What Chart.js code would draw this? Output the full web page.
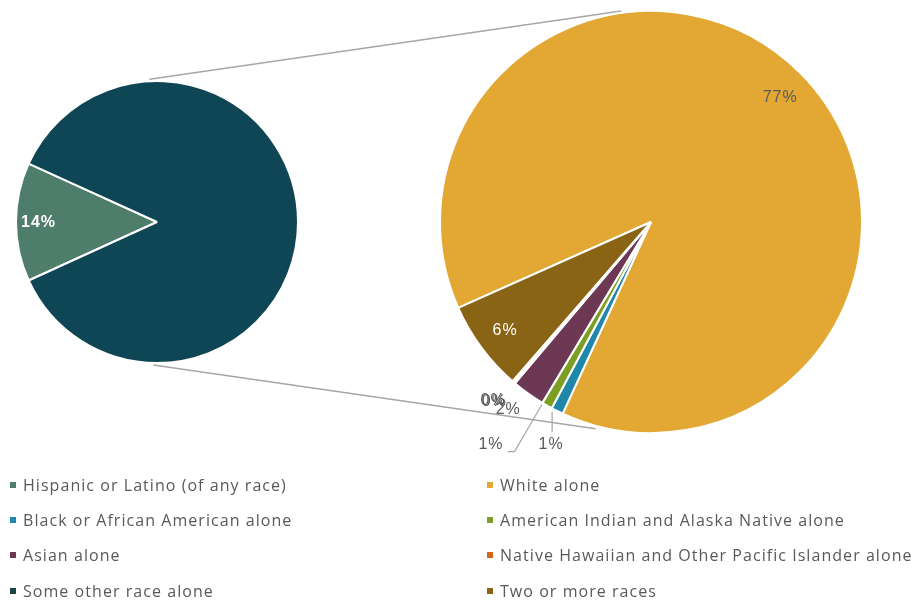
<!DOCTYPE html>
<html>
<head>
<meta charset="utf-8">
<script src="https://cdn.jsdelivr.net/npm/chart.js@4/dist/chart.umd.min.js"></script>
<style>
  body { margin: 0; background: #fff; }
  #contenidor { position: relative; width: 918px; height: 600px; }
  canvas { position: absolute; left: 0; top: 0; }
  #llegenda {
    position: absolute; left: 10px; top: 467px;
    display: grid; grid-template-columns: 477px 420px; grid-auto-rows: 35.3px;
    font-family: "Open Sans", sans-serif; font-size: 16px; letter-spacing: 1.05px; color: #595959;
  }
  .item { display: flex; align-items: center; white-space: nowrap; }
  .marca { width: 6px; height: 6px; margin-right: 7px; flex: none; }
</style>
</head>
<body>
<div id="contenidor">
  <canvas id="esquerra" width="918" height="600"></canvas>
  <canvas id="dreta" width="918" height="600"></canvas>
  <div id="llegenda"></div>
</div>
<script>
// Categories i percentatges (sobre el total de la població)
const categories = [
  'Hispanic or Latino (of any race)',
  'White alone',
  'Black or African American alone',
  'American Indian and Alaska Native alone',
  'Asian alone',
  'Native Hawaiian and Other Pacific Islander alone',
  'Some other race alone',
  'Two or more races'
];
const valors = [13.6, 76.5, 0.8, 0.7, 2.2, 0.1, 0.1, 6.0];
const colors = ['#4e7d6b', '#e2a833', '#1f87a7', '#7c9e22', '#6c3853', '#d2641c', '#1c4545', '#8a6415'];
const colorResta = '#0f4655';

// El pastís petit: hispans + la resta; el gran: desglossament de la resta
const valorsEsquerra = [valors[0], valors.slice(1).reduce((a, b) => a + b, 0)];
const valorsDreta = valors.slice(1);
const total = valors.reduce((a, b) => a + b, 0);

// Desplaçament (px) de les etiquetes petites respecte a la vora de la porció
const desplEtiquetes = {
  1: { dx: -6, dy: 34 },
  2: { dx: -56, dy: 39 },
  3: { dx: -20, dy: 16 },
  4: { dx: -20, dy: 19 },
  5: { dx: -20, dy: 19 }
};

function punt(arc, angle, r) {
  return { x: arc.x + Math.cos(angle) * r, y: arc.y + Math.sin(angle) * r };
}

// Plugin per dibuixar els percentatges sobre les porcions
function pluginEtiquetes(llistaIndexos) {
  return {
    id: 'etiquetes',
    afterDatasetsDraw(chart) {
      const ctx = chart.ctx;
      const meta = chart.getDatasetMeta(0);
      const dades = chart.data.datasets[0].data;
      ctx.save();
      ctx.textAlign = 'center';
      ctx.textBaseline = 'middle';
      ctx.letterSpacing = '1px';
      meta.data.forEach((arc, i) => {
        const idx = llistaIndexos[i];
        if (idx === null) return;
        const text = Math.round(dades[i] / total * 100) + '%';
        const mig = (arc.startAngle + arc.endAngle) / 2;
        if (dades[i] >= 3) {
          const p = punt(arc, mig, arc.outerRadius * (idx === 0 ? 0.84 : 0.86));
          ctx.font = (idx === 0 ? 'bold ' : '') + '16px "Liberation Sans", Arial, sans-serif';
          ctx.fillStyle = idx === 1 ? '#595959' : '#ffffff';
          ctx.fillText(text, p.x, p.y + (idx === 1 ? 3 : 1));
        } else {
          const vora = punt(arc, mig, arc.outerRadius);
          const d = desplEtiquetes[i] || { dx: -20, dy: 20 };
          const lx = vora.x + d.dx, ly = vora.y + d.dy;
          ctx.font = '16px "Liberation Sans", Arial, sans-serif';
          ctx.fillStyle = '#595959';
          ctx.fillText(text, lx, ly);
          // Línies guia per a les porcions de l'1%
          if (dades[i] >= 0.5 && dades[i] < 1.5) {
            ctx.strokeStyle = '#a6a6a6';
            ctx.lineWidth = 1.2;
            ctx.beginPath();
            if (d.dx < -20) {
              const w = ctx.measureText(text).width;
              ctx.moveTo(lx + w / 2 + 4, ly + 7);
              ctx.lineTo(lx + w / 2 + 11, ly + 7);
              ctx.lineTo(vora.x - 5, vora.y - 1);
            } else {
              ctx.moveTo(lx + 1, ly - 13);
              ctx.lineTo(lx + 1, vora.y + 1);
            }
            ctx.stroke();
          }
        }
      });
      ctx.restore();
    }
  };
}

// Línies que uneixen els dos pastissos
const pluginConnectors = {
  id: 'connectors',
  beforeDatasetsDraw(chart) {
    const a = graficaEsquerra.getDatasetMeta(0).data[0];
    const b = chart.getDatasetMeta(0).data[0];
    const g = Math.PI / 180;
    const ctx = chart.ctx;
    ctx.save();
    ctx.strokeStyle = '#a6a6a6';
    ctx.lineWidth = 1.5;
    ctx.beginPath();
    let p1 = punt(a, -93 * g, a.outerRadius + 2), p2 = punt(b, -98 * g, b.outerRadius + 2);
    ctx.moveTo(p1.x, p1.y); ctx.lineTo(p2.x, p2.y);
    p1 = punt(a, 91.5 * g, a.outerRadius + 2); p2 = punt(b, 105 * g, b.outerRadius + 3);
    ctx.moveTo(p1.x, p1.y); ctx.lineTo(p2.x, p2.y);
    ctx.stroke();
    ctx.restore();
  }
};

const opcionsComunes = {
  responsive: false,
  animation: false,
  plugins: { legend: { display: false }, tooltip: { enabled: false } }
};

const graficaEsquerra = new Chart(document.getElementById('esquerra'), {
  type: 'pie',
  data: {
    labels: ['Hispanic or Latino (of any race)', 'Not Hispanic or Latino'],
    datasets: [{
      data: valorsEsquerra,
      backgroundColor: [colors[0], colorResta],
      borderColor: '#ffffff',
      borderWidth: 2
    }]
  },
  options: Object.assign({}, opcionsComunes, {
    rotation: 245.5,
    layout: { padding: { left: 15, top: 80, right: 619, bottom: 236 } }
  }),
  plugins: [pluginEtiquetes([0, null])]
});

const graficaDreta = new Chart(document.getElementById('dreta'), {
  type: 'pie',
  data: {
    labels: categories.slice(1),
    datasets: [{
      data: valorsDreta,
      backgroundColor: colors.slice(1),
      borderColor: '#ffffff',
      borderWidth: 2
    }]
  },
  options: Object.assign({}, opcionsComunes, {
    rotation: 246,
    layout: { padding: { left: 439, top: 10, right: 55, bottom: 166 } }
  }),
  plugins: [pluginConnectors, pluginEtiquetes([1, 2, 3, 4, 5, 6, 7])]
});

// Llegenda en dues columnes
const llegenda = document.getElementById('llegenda');
categories.forEach((nom, i) => {
  const el = document.createElement('div');
  el.className = 'item';
  el.innerHTML = '<span class="marca" style="background:' + colors[i] + '"></span>' + nom;
  llegenda.appendChild(el);
});
</script>
</body>
</html>
